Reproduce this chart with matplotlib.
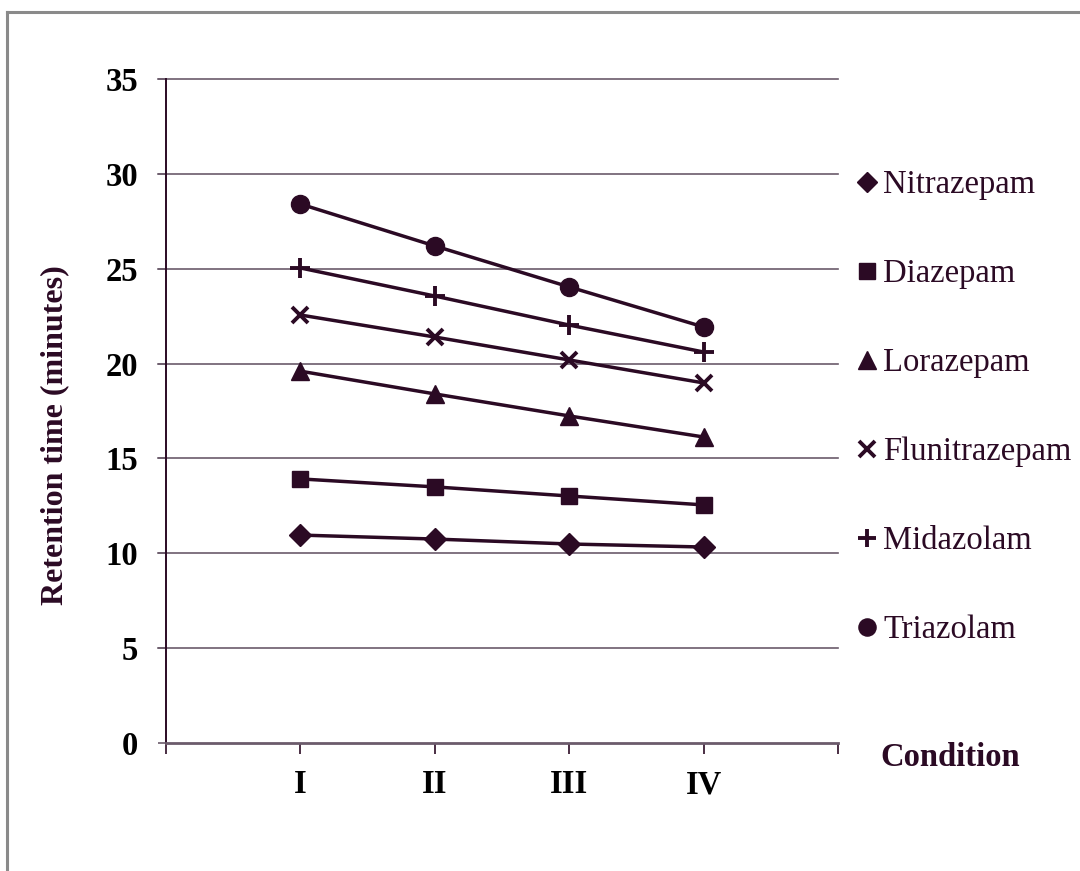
import matplotlib.pyplot as plt
from matplotlib.lines import Line2D

# data
conditions = ["I", "II", "III", "IV"]
drugs = ["Nitrazepam", "Diazepam", "Lorazepam", "Flunitrazepam", "Midazolam", "Triazolam"]
nitrazepam = [10.96, 10.75, 10.49, 10.33]
diazepam = [13.92, 13.50, 13.02, 12.55]
lorazepam = [19.60, 18.40, 17.24, 16.13]
flunitrazepam = [22.56, 21.40, 20.19, 18.98]
midazolam = [25.04, 23.56, 22.03, 20.61]
triazolam = [28.41, 26.20, 24.04, 21.93]
series = [nitrazepam, diazepam, lorazepam, flunitrazepam, midazolam, triazolam]
markers = ["D", "s", "^", "x", "+", "o"]
msizes = [11, 12, 13, 12, 14, 13]

ink = "#2b0a24"
grid_col = "#6b5b6b"
serif = "Liberation Serif"

fig = plt.figure(figsize=(10.8, 8.71), dpi=100)
fig.patch.set_facecolor("white")

# grey frame at top and left of the picture
fig.add_artist(Line2D([7 / 1080, 7 / 1080], [0, 1 - 12 / 871], transform=fig.transFigure,
                      color="#8a8a8a", lw=2.2))
fig.add_artist(Line2D([7 / 1080, 1], [1 - 12 / 871, 1 - 12 / 871], transform=fig.transFigure,
                      color="#8a8a8a", lw=2.2))

ax = fig.add_axes([166 / 1080, 1 - 743 / 871, (838 - 166) / 1080, (743 - 79) / 871])
ax.set_facecolor("none")

x = range(1, len(conditions) + 1)
for name, vals, m, ms in zip(drugs, series, markers, msizes):
    ax.plot(x, vals, color=ink, lw=2.5, marker=m, markersize=ms,
            markeredgewidth=2.8 if m in ("x", "+") else 1, markeredgecolor=ink,
            markerfacecolor=ink, label=name, zorder=3)

ax.set_xlim(0, 5)
ax.set_ylim(0, 35)
ax.set_yticks(range(0, 36, 5))
ax.set_xticks(range(0, 6))
ax.set_xticklabels([""] + conditions + [""])

for y in range(5, 36, 5):
    ax.plot([-0.06, 5], [y, y], color=grid_col, lw=1.2, clip_on=False, zorder=1)

for s in ("top", "right"):
    ax.spines[s].set_visible(False)
ax.spines["left"].set_color(ink)
ax.spines["left"].set_linewidth(1.4)
ax.spines["bottom"].set_color(grid_col)
ax.spines["bottom"].set_linewidth(2)

ax.tick_params(axis="y", length=6, width=1.2, color=grid_col, pad=14)
ax.tick_params(axis="x", length=8, width=1.2, color=ink, pad=11)
for lab in ax.get_yticklabels() + ax.get_xticklabels():
    lab.set_fontfamily(serif)
    lab.set_fontweight("bold")
    lab.set_fontsize(23.5)
    lab.set_color("black")

fig.text(55 / 1080, 1 - 435 / 871, "Retention time (minutes)", rotation=90,
         ha="center", va="center", fontsize=23, fontweight="bold",
         family=serif, color=ink)
fig.text(880 / 1080, 1 - 757 / 871, "Condition", ha="left", va="center",
         fontsize=23.5, fontweight="bold", family=serif, color=ink)

handles = [Line2D([], [], ls="none", marker=m, markersize=ms * 0.95, color=ink,
                  markeredgewidth=2.8 if m in ("x", "+") else 1)
           for m, ms in zip(markers, msizes)]
fig.legend(handles, drugs, loc="upper left", bbox_to_anchor=(855 / 1080, 1 - 170 / 871),
           frameon=False, borderpad=0, borderaxespad=0, handlelength=0.75,
           handletextpad=0.12, labelspacing=1.79,
           prop={"family": serif, "size": 23.5}, labelcolor=ink)

fig.savefig("out.png", dpi=100)
